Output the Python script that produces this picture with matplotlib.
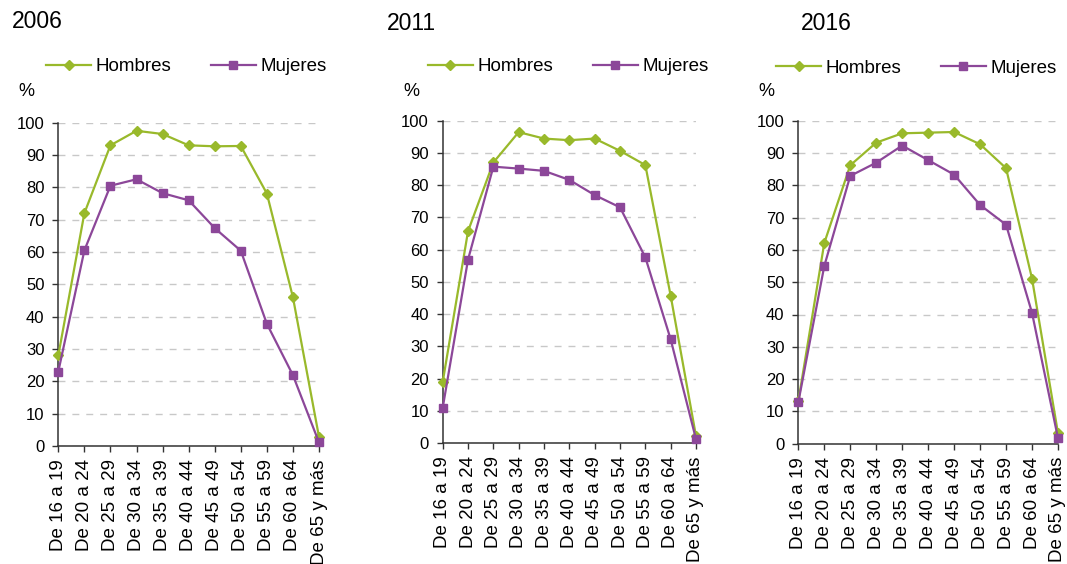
import matplotlib
matplotlib.use('Agg')
import matplotlib.pyplot as plt
import numpy as np

plt.rcParams['font.family'] = ['Liberation Sans', 'DejaVu Sans']

age_groups = ['De 16 a 19', 'De 20 a 24', 'De 25 a 29', 'De 30 a 34', 'De 35 a 39', 'De 40 a 44',
              'De 45 a 49', 'De 50 a 54', 'De 55 a 59', 'De 60 a 64', 'De 65 y más']
years = ['2006', '2011', '2016']

hombres_2006 = [28.0, 72.0, 93.0, 97.5, 96.5, 93.0, 92.7, 92.8, 78.1, 46.0, 2.8]
mujeres_2006 = [23.0, 60.5, 80.5, 82.5, 78.2, 76.0, 67.4, 60.4, 37.8, 21.9, 1.1]
hombres_2011 = [19.0, 65.7, 87.0, 96.4, 94.4, 93.9, 94.4, 90.6, 86.2, 45.7, 2.2]
mujeres_2011 = [11.0, 56.9, 85.7, 85.1, 84.4, 81.6, 76.9, 73.1, 57.6, 32.2, 1.3]
hombres_2016 = [13.1, 62.1, 86.2, 93.2, 96.1, 96.3, 96.5, 92.7, 85.3, 51.1, 3.2]
mujeres_2016 = [12.8, 55.0, 82.9, 87.0, 92.3, 87.8, 83.3, 73.9, 67.8, 40.5, 1.7]

hombres = [hombres_2006, hombres_2011, hombres_2016]
mujeres = [mujeres_2006, mujeres_2011, mujeres_2016]

green = '#99B92B'
purple = '#8C4799'

W, H = 1067, 564
fig = plt.figure(figsize=(W / 100, H / 100), dpi=100)

# panel geometry in pixels: (axis x, last tick x, y of 100, y of 0)
panels = [(58.3, 319.0, 122.7, 446.0),
          (442.7, 696.0, 120.5, 443.3),
          (798.3, 1058.0, 120.7, 443.7)]
title_pos = [(12, 22), (387, 24), (801, 23)]
pct_pos = [(18, 91), (403, 91), (758, 92)]
legend_pos = [(46, 66.5), (428, 66.7), (776, 68.3)]

x = np.arange(len(age_groups))

for k in range(3):
    x0, x1, ytop, ybot = panels[k]
    ax = fig.add_axes([x0 / W, 1 - ybot / H, (x1 - x0) / W, (ybot - ytop) / H])

    ax.plot(x, hombres[k], color=green, lw=1.6, marker='D', ms=5.5, label='Hombres', clip_on=False, zorder=3)
    ax.plot(x, mujeres[k], color=purple, lw=1.6, marker='s', ms=6, label='Mujeres', clip_on=False, zorder=4)

    ax.set_xlim(0, len(age_groups) - 1)
    ax.set_ylim(0, 100)
    ax.set_yticks(np.arange(0, 101, 10))
    ax.set_xticks(x)
    ax.set_xticklabels(age_groups, rotation=90, fontsize=13.5)
    ax.tick_params(axis='y', labelsize=12, length=4, width=1, pad=6, color='#333333')
    ax.tick_params(axis='x', length=4.5, width=1, pad=5, color='#333333')

    ax.yaxis.grid(True, color='#C8C8C8', lw=1, linestyle=(0, (5, 5)))
    ax.set_axisbelow(True)
    for s in ['top', 'right']:
        ax.spines[s].set_visible(False)
    for s in ['left', 'bottom']:
        ax.spines[s].set_color('#333333')
        ax.spines[s].set_linewidth(1.1)

    tx, ty = title_pos[k]
    fig.text(tx / W, 1 - ty / H, years[k], fontsize=16.5, va='center', ha='left')
    px, py = pct_pos[k]
    fig.text(px / W, 1 - py / H, '%', fontsize=13, va='center', ha='left')

    lx, ly = legend_pos[k]
    ax.legend(loc='center left', bbox_to_anchor=(lx / W, 1 - ly / H), bbox_transform=fig.transFigure,
              ncol=2, frameon=False, fontsize=13.5, borderpad=0, borderaxespad=0,
              handlelength=2.4, handletextpad=0.25, columnspacing=2.1)

fig.savefig('out.png', dpi=100)
